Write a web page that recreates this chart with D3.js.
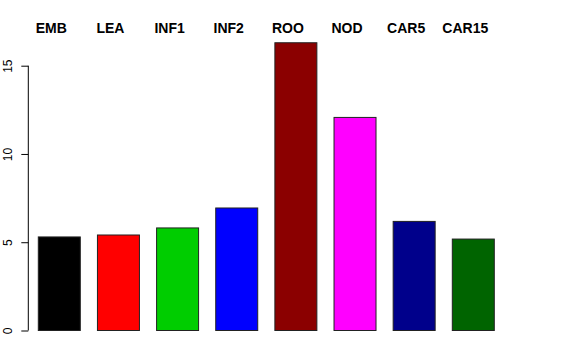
<!DOCTYPE html>
<html>
<head>
<meta charset="utf-8">
<script src="https://cdn.jsdelivr.net/npm/d3@7"></script>
<style>
  html, body { margin: 0; padding: 0; background: #fff; }
  svg { display: block; }
</style>
</head>
<body>
<script>
// ---- data ----
const categories = ["EMB", "LEA", "INF1", "INF2", "ROO", "NOD", "CAR5", "CAR15"];
const values = [5.30, 5.41, 5.81, 6.94, 16.30, 12.07, 6.18, 5.18];
const barColors = ["#000000", "#FF0000", "#00CD00", "#0000FF", "#8B0000", "#FF00FF", "#00008B", "#006400"];
const yTicks = [0, 5, 10, 15];

const W = 576, H = 360;
const svg = d3.select("body").append("svg").attr("width", W).attr("height", H);

const x = d3.scaleBand().domain(categories).range([38.3, 494.3]).paddingInner(0.29).paddingOuter(0);
const y = d3.scaleLinear().domain([0, 15]).range([330.5, 65.7]);
const labelShift = -8;

svg.append("g").selectAll("rect")
  .data(categories)
  .join("rect")
  .attr("x", d => x(d))
  .attr("width", x.bandwidth())
  .attr("y", (d, i) => y(values[i]))
  .attr("height", (d, i) => y(0) - y(values[i]))
  .attr("fill", (d, i) => barColors[i])
  .attr("stroke", "#222")
  .attr("stroke-width", 1);

// y axis
const yAxis = d3.axisLeft(y).tickValues(yTicks).tickSize(7).tickPadding(0).tickFormat(d3.format("d"));
const gy = svg.append("g").attr("transform", "translate(28.3,0)").call(yAxis);
gy.select(".domain").attr("d", `M0,${y(0)}V${y(15)}`).attr("stroke", "#000");
gy.selectAll(".tick line").attr("stroke", "#000");
gy.selectAll(".tick text")
  .attr("font-family", "Liberation Sans, Arial, Helvetica, sans-serif")
  .attr("font-size", 12)
  .attr("fill", "#000")
  .attr("text-anchor", "middle")
  .attr("x", 0)
  .attr("dy", 0)
  .attr("transform", "translate(-16,0) rotate(-90)");

// top labels
svg.append("g").selectAll("text")
  .data(categories)
  .join("text")
  .attr("x", d => x(d) + x.bandwidth() / 2 + labelShift)
  .attr("y", 33)
  .attr("text-anchor", "middle")
  .attr("font-family", "Liberation Sans, Arial, Helvetica, sans-serif")
  .attr("font-weight", "bold")
  .attr("font-size", 14)
  .attr("fill", "#000")
  .text(d => d);
</script>
</body>
</html>
